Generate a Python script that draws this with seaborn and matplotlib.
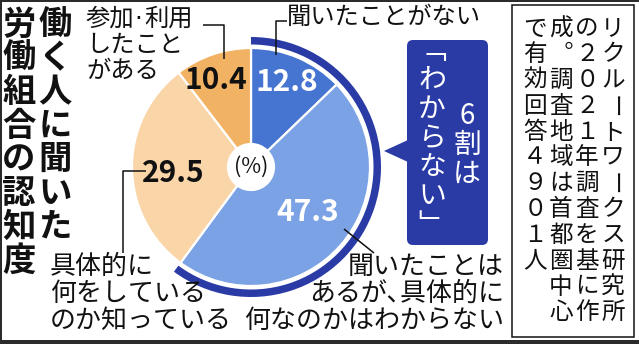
import matplotlib
matplotlib.use("Agg")
import matplotlib.pyplot as plt
from matplotlib.patches import FancyBboxPatch, Polygon, Rectangle
import numpy as np
import seaborn as sns

# --- data -------------------------------------------------------------
categories = [
    "聞いたことがない",
    "聞いたことはあるが､具体的に何なのかはわからない",
    "具体的に何をしているのか知っている",
    "参加·利用したことがある",
]
shares = [12.8, 47.3, 29.5, 10.4]
value_labels = ["12.8", "47.3", "29.5", "10.4"]
title_lines = ["働く人に聞いた", "労働組合の認知度"]
callout_lines = ["6割は", "﹁わからない﹂"]
source_lines = [
    "リクルートワークス研究所",
    "の２０２１年調査を基に作",
    "成︒調査地域は首都圏中心",
    "で有効回答４９０１人",
]
label_lines = [
    ["聞いたことがない"],
    ["聞いたことは", "あるが､具体的に", "何なのかはわからない"],
    ["具体的に", "何をしている", "のか知っている"],
    ["参加·利用", "したこと", "がある"],
]

# --- style ------------------------------------------------------------
sns.set_theme(style="white")
plt.rcParams["font.family"] = ["Noto Sans CJK JP", "DejaVu Sans"]
palette = sns.color_palette(["#4674D1", "#7AA2E4", "#F9D5A8", "#F2B264"])
navy = "#2A3BA6"
ink = "#111111"
value_colors = ["white", "white", ink, ink]

W, H = 639, 344
fig = plt.figure(figsize=(W / 100, H / 100), dpi=100)
ax = fig.add_axes([0, 0, 1, 1])


def Y(y):
    """convert a top-down pixel row to axis y"""
    return H - y


cx, cy, R, hole = 251, Y(167), 119, 23

# donut
ax.pie(shares, colors=palette, startangle=90, counterclock=False,
       center=(cx, cy), radius=R,
       wedgeprops=dict(width=R - hole, edgecolor="white", linewidth=1.6))

# outer ring over the two "don't know" groups
unknown = shares[0] + shares[1]
ax.pie([unknown, 100 - unknown], colors=[navy, (0, 0, 0, 0)], startangle=90,
       counterclock=False, center=(cx, cy), radius=130,
       wedgeprops=dict(width=7.5, linewidth=0))

ax.set_xlim(0, W)
ax.set_ylim(0, H)
ax.set_aspect("equal")
ax.axis("off")

# value labels inside the wedges
label_frac = [0.79, 0.60, 0.65, 0.80]
label_turn = [0.5, 4.0, 2.8, 2.8]
num_pt = 21.5
cum = 0.0
for v, txt, frac, turn, col in zip(shares, value_labels, label_frac,
                                   label_turn, value_colors):
    start = 90 - 360 * cum / 100
    mid = np.deg2rad(start - 180 * v / 100 + turn)
    cum += v
    x = cx + frac * R * np.cos(mid)
    y = cy + frac * R * np.sin(mid) - 0.36 * num_pt / 0.72
    ax.text(x, y, txt, ha="center", va="baseline", fontsize=num_pt,
            fontweight="bold", color=col)

ax.text(cx, cy, "(%)", ha="center", va="center", fontsize=15.5, color=ink)

# category labels
lab_pt = 18.7
top_pt = 17.5
em_top = top_pt / 0.72
line_rows = [266, 293, 320]
ax.text(287, Y(17), label_lines[0][0], ha="left", va="center",
        fontsize=top_pt, color=ink)

for ln, r in zip(label_lines[1], line_rows):
    ax.text(504, Y(r), ln, ha="right", va="center", fontsize=lab_pt,
            color=ink)

for ln, r in zip(label_lines[2], line_rows):
    ax.text(50, Y(r), ln, ha="left", va="center", fontsize=lab_pt, color=ink)

# top left: narrow middle dot between the two words
a, b = label_lines[3][0].split("·")
ax.text(85, Y(19), a, ha="left", va="center", fontsize=top_pt, color=ink)
ax.text(85 + 2 * em_top + 5, Y(19), "·", ha="center", va="center",
        fontsize=top_pt, color=ink, family=["DejaVu Sans"])
ax.text(85 + 2 * em_top + 11, Y(19), b, ha="left", va="center",
        fontsize=top_pt, color=ink)
for ln, r in zip(label_lines[3][1:], [45, 71]):
    ax.text(86, Y(r), ln, ha="left", va="center", fontsize=top_pt, color=ink)

# leader lines
leaders = [
    [(287, 21), (276, 21), (276, 55)],
    [(344, 229), (374, 253)],
    [(146, 171), (123, 171), (123, 253)],
    [(203, 25), (224, 25), (224, 59)],
]
for pts in leaders:
    xs, ys = zip(*pts)
    ax.plot(xs, [Y(v) for v in ys], color=ink, lw=1.1, solid_capstyle="butt")


def vertical(x, y0, pitch, s, **kw):
    """draw a string top-to-bottom, one glyph per cell"""
    for i, ch in enumerate(s):
        rot = -90 if ch == "ー" else 0
        ax.text(x, Y(y0 + i * pitch), ch, ha="center", va="center",
                rotation=rot, **kw)


# title (two vertical columns, right column first)
vertical(55, 25, 33.7, title_lines[0], fontsize=24, fontweight="bold",
         color=ink)
vertical(19, 25, 33.7, title_lines[1], fontsize=24, fontweight="bold",
         color=ink)

# callout bubble
ax.add_patch(FancyBboxPatch((407, Y(245)), 81, 205,
                            boxstyle="round,pad=0,rounding_size=6",
                            facecolor=navy, edgecolor="none"))
ax.add_patch(Polygon([(384, Y(151)), (408, Y(140)), (408, Y(162))],
                     closed=True, facecolor=navy, edgecolor="none"))
vertical(467, 116, 29, callout_lines[0], fontsize=20, color="white")
vertical(432, 51, 29, callout_lines[1], fontsize=20, color="white")

# source note
ax.add_patch(Rectangle((512, Y(337)), 122, 332, facecolor="none",
                       edgecolor=ink, lw=1.1))
for x, s in zip([613, 587, 561, 535], source_lines):
    vertical(x, 29, 25.8, s, fontsize=17, color=ink)

# dark frame on the outer edges
for (x0, y0, w, h) in [(0, 0, 2, H), (0, H - 2, W, 2), (0, 0, W, 4)]:
    fig.patches.append(Rectangle((x0 / W, y0 / H), w / W, h / H,
                                 transform=fig.transFigure,
                                 facecolor="#2b2b2b", edgecolor="none"))

fig.savefig("out.png", dpi=100)
